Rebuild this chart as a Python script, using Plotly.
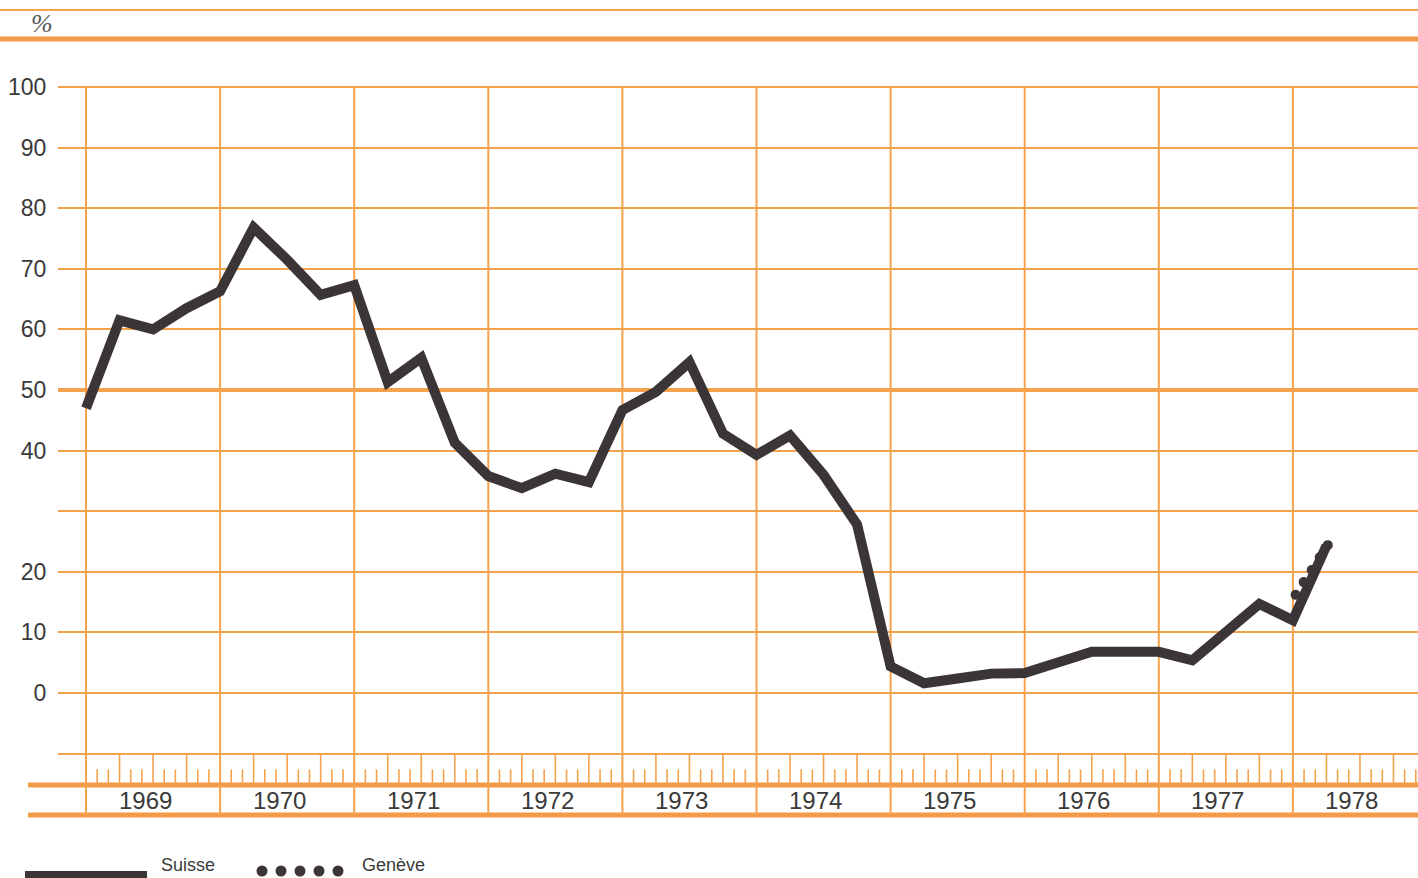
import plotly.graph_objects as go

# ---------------- data ----------------
quarters = [1969.00, 1969.25, 1969.50, 1969.75,
            1970.00, 1970.25, 1970.50, 1970.75,
            1971.00, 1971.25, 1971.50, 1971.75,
            1972.00, 1972.25, 1972.50, 1972.75,
            1973.00, 1973.25, 1973.50, 1973.75,
            1974.00, 1974.25, 1974.50, 1974.75,
            1975.00, 1975.25, 1975.50, 1975.75,
            1976.00, 1976.25, 1976.50, 1976.75,
            1977.00, 1977.25, 1977.50, 1977.75,
            1978.00, 1978.25]
suisse = [47.0, 61.5, 60.0, 63.5,
          66.3, 76.8, 71.5, 65.7,
          67.3, 51.3, 55.3, 41.3,
          35.8, 33.8, 36.2, 34.8,
          46.7, 49.7, 54.6, 42.8,
          39.3, 42.5, 36.0, 27.8,
          4.4, 1.6, 2.4, 3.2,
          3.3, 5.0, 6.8, 6.8,
          6.8, 5.4, 10.2, 14.7,
          12.0, 24.3]
geneve_x = [1978.02, 1978.08, 1978.14, 1978.20, 1978.26]
geneve = [16.2, 18.3, 20.3, 22.4, 24.4]

year_labels = ["1969", "1970", "1971", "1972", "1973",
               "1974", "1975", "1976", "1977", "1978"]
year_starts = [1969, 1970, 1971, 1972, 1973, 1974, 1975, 1976, 1977, 1978]
y_tickvals = [-10, 0, 10, 20, 30, 40, 50, 60, 70, 80, 90, 100]
y_ticktext = ["", "0", "10", "20", "", "40", "50", "60", "70", "80", "90", "100"]
series_names = ["Suisse", "Genève"]

# ---------------- geometry ----------------
W, H = 1418, 878
L, R, T, B = 58, 0, 84, 63
X0, X1 = 1968.7912, 1978.9329
Y0, Y1 = -20.13, 100.5
PW, PH = W - L - R, H - T - B

ORANGE = "#F5A24E"
ORANGE_D = "#F29A45"
DARK = "#3C3538"
TXT = "#3a3a3a"
FONT = "Liberation Sans, Arial, sans-serif"


def px_x(p):  # pixel x -> paper x
    return (p - L) / PW


def px_y(p):  # pixel y -> paper y
    return (H - B - p) / PH


def val_y(v):  # data y -> paper y
    return (v - Y0) / (Y1 - Y0)


fig = go.Figure()

fig.add_trace(go.Scatter(
    x=quarters, y=suisse, mode="lines", name=series_names[0],
    line=dict(color=DARK, width=10), showlegend=False))
fig.add_trace(go.Scatter(
    x=geneve_x, y=geneve, mode="markers", name=series_names[1],
    marker=dict(color=DARK, size=10), showlegend=False))

shapes = []
# vertical year lines
for yr in year_starts:
    shapes.append(dict(type="line", xref="x", yref="y", x0=yr, x1=yr,
                       y0=100, y1=Y0, line=dict(color=ORANGE, width=2),
                       layer="below"))
# month / quarter ticks
m = 0
while True:
    xm = 1969 + m / 12
    if xm > X1:
        break
    if m % 12 != 0:
        top = -10 if m % 3 == 0 else -12.6
        shapes.append(dict(type="line", xref="x", yref="y", x0=xm, x1=xm,
                           y0=top, y1=-15.18,
                           line=dict(color=ORANGE, width=1.6), layer="below"))
    m += 1
# thicker 50 line
shapes.append(dict(type="line", xref="paper", yref="paper", x0=0, x1=1,
                   y0=val_y(50), y1=val_y(50),
                   line=dict(color=ORANGE, width=4), layer="below"))
# bottom thick lines
for yv in [-15.18, Y0]:
    shapes.append(dict(type="line", xref="paper", yref="paper",
                       x0=px_x(28), x1=1, y0=val_y(yv), y1=val_y(yv),
                       line=dict(color=ORANGE_D, width=5), layer="below"))
# top lines
shapes.append(dict(type="line", xref="paper", yref="paper",
                   x0=px_x(0), x1=1, y0=px_y(10), y1=px_y(10),
                   line=dict(color=ORANGE, width=2)))
shapes.append(dict(type="line", xref="paper", yref="paper",
                   x0=px_x(0), x1=1, y0=px_y(39), y1=px_y(39),
                   line=dict(color=ORANGE_D, width=5)))
# legend: bar for Suisse
shapes.append(dict(type="rect", xref="paper", yref="paper",
                   x0=px_x(25), x1=px_x(147), y0=px_y(871), y1=px_y(882),
                   fillcolor=DARK, line=dict(width=0)))
# legend: dots for Genève
for cx in [262, 281, 300, 319, 338]:
    r = 5.5
    shapes.append(dict(type="circle", xref="paper", yref="paper",
                       x0=px_x(cx - r), x1=px_x(cx + r),
                       y0=px_y(871 + r), y1=px_y(871 - r),
                       fillcolor=DARK, line=dict(width=0)))

annotations = []
for yr, lab in zip(year_starts, year_labels):
    annotations.append(dict(x=yr + 0.44, y=-17.66, xref="x", yref="y",
                            text=lab, showarrow=False,
                            xanchor="center", yanchor="middle",
                            font=dict(family=FONT, size=24, color=TXT)))
annotations.append(dict(x=px_x(42), y=px_y(24), xref="paper", yref="paper",
                        text="<i>%</i>", showarrow=False,
                        xanchor="center", yanchor="middle",
                        font=dict(family="Liberation Serif, serif", size=26,
                                  color="#555555")))
annotations.append(dict(x=px_x(159), y=px_y(865), xref="paper", yref="paper",
                        text=series_names[0], showarrow=False,
                        xanchor="left", yanchor="middle",
                        font=dict(family=FONT, size=18, color=TXT)))
annotations.append(dict(x=px_x(360), y=px_y(865), xref="paper", yref="paper",
                        text=series_names[1], showarrow=False,
                        xanchor="left", yanchor="middle",
                        font=dict(family=FONT, size=18, color=TXT)))

fig.update_layout(
    width=W, height=H,
    margin=dict(l=L, r=R, t=T, b=B, pad=0),
    paper_bgcolor="white", plot_bgcolor="white",
    showlegend=False,
    shapes=shapes, annotations=annotations,
    xaxis=dict(range=[X0, X1], showgrid=False, zeroline=False,
               showticklabels=False, ticks="", showline=False, fixedrange=True),
    yaxis=dict(range=[Y0, Y1], tickmode="array", tickvals=y_tickvals,
               ticktext=y_ticktext, showgrid=True, gridcolor=ORANGE,
               gridwidth=2, zeroline=False, showline=False,
               ticks="outside", ticklen=6, tickcolor="rgba(0,0,0,0)",
               tickfont=dict(family=FONT, size=23, color=TXT),
               fixedrange=True),
)

fig.write_html("out.html", config={"displayModeBar": False},
               post_script="document.body.style.margin='0';"
                           "document.body.style.overflow='hidden';")
